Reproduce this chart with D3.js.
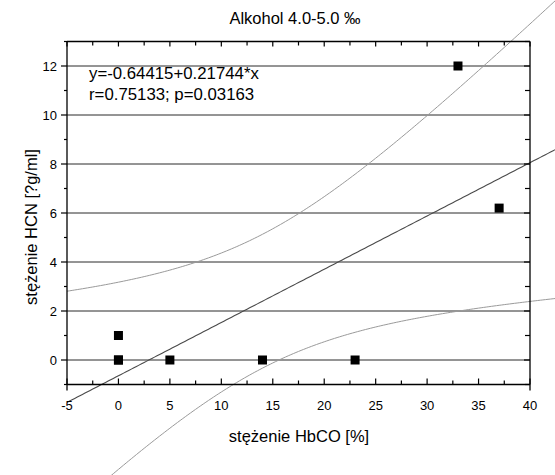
<!DOCTYPE html>
<html><head><meta charset="utf-8">
<script src="https://cdnjs.cloudflare.com/ajax/libs/d3/7.8.5/d3.min.js"></script>
<style>body{margin:0;background:#fff}svg{display:block;font-family:"Liberation Sans",Arial,sans-serif}</style>
</head><body><svg id="c" width="555" height="475"></svg>
<script>
const xValues = [0, 0, 0, 5, 14, 23, 33, 37];
const yValues = [0, 0, 1, 0, 0, 0, 12, 6.2];
const xTicks = [-5, 0, 5, 10, 15, 20, 25, 30, 35, 40];
const yTicks = [0, 2, 4, 6, 8, 10, 12];
const titleText = "Alkohol 4.0-5.0 \u2030";
const xTitle = "stężenie HbCO [%]";
const yTitle = "stężenie HCN [?g/ml]";
const annotation = ["y=-0.64415+0.21744*x", "r=0.75133; p=0.03163"];
const tCrit = 2.4469; // t(0.975, df=6)

const svg = d3.select("#c");
const x = d3.scaleLinear().domain([-5, 40]).range([67, 530]);
const y = d3.scaleLinear().domain([-1, 13]).range([384.5, 41.5]);
const L = 67, R = 530, T = 41.5, B = 384.5;

// gridlines
svg.append("g").selectAll("line").data(yTicks).join("line")
  .attr("x1", L).attr("x2", R).attr("y1", d => y(d)).attr("y2", d => y(d))
  .attr("stroke", "#2a2a2a").attr("stroke-width", 1);

// regression
const n = xValues.length;
const mx = d3.mean(xValues), my = d3.mean(yValues);
let sxx = 0, sxy = 0;
xValues.forEach((v, i) => { sxx += (v - mx) ** 2; sxy += (v - mx) * (yValues[i] - my); });
const b = sxy / sxx, a = my - b * mx;
let sse = 0;
xValues.forEach((v, i) => { sse += (yValues[i] - (a + b * v)) ** 2; });
const s = Math.sqrt(sse / (n - 2));
const xs = d3.range(-5, 45.01, 0.25);
const fit = xs.map(v => [v, a + b * v]);
const half = v => tCrit * s * Math.sqrt(1 / n + (v - mx) ** 2 / sxx);
const upper = xs.map(v => [v, a + b * v + half(v)]);
const lower = xs.map(v => [v, a + b * v - half(v)]);
const line = d3.line().x(d => x(d[0])).y(d => y(d[1]));
svg.append("path").attr("d", line(upper)).attr("fill", "none").attr("stroke", "#9a9a9a").attr("stroke-width", 1);
svg.append("path").attr("d", line(lower)).attr("fill", "none").attr("stroke", "#9a9a9a").attr("stroke-width", 1);
svg.append("path").attr("d", line(fit)).attr("fill", "none").attr("stroke", "#4a4a4a").attr("stroke-width", 1.1);

// frame
const fr = svg.append("g").attr("stroke", "#000").attr("stroke-width", 1.3);
fr.append("line").attr("x1", L).attr("x2", R).attr("y1", T).attr("y2", T);
fr.append("line").attr("x1", L).attr("x2", R).attr("y1", B).attr("y2", B);
fr.append("line").attr("x1", L).attr("x2", L).attr("y1", T).attr("y2", B + 6);
fr.append("line").attr("x1", R).attr("x2", R).attr("y1", T).attr("y2", B + 6);

// ticks
const xMinor = d3.range(-2.5, 40, 5);
const yMinor = d3.range(-1, 13.5, 2);
const tk = svg.append("g").attr("stroke", "#000").attr("stroke-width", 1.2);
xTicks.forEach(v => {
  tk.append("line").attr("x1", x(v)).attr("x2", x(v)).attr("y1", B).attr("y2", B - 6);
  tk.append("line").attr("x1", x(v)).attr("x2", x(v)).attr("y1", T).attr("y2", T + 5);
});
xMinor.forEach(v => {
  tk.append("line").attr("x1", x(v)).attr("x2", x(v)).attr("y1", B).attr("y2", B - 4);
  tk.append("line").attr("x1", x(v)).attr("x2", x(v)).attr("y1", T).attr("y2", T + 4);
});
yTicks.forEach(v => {
  tk.append("line").attr("x1", L - 6).attr("x2", L).attr("y1", y(v)).attr("y2", y(v));
  tk.append("line").attr("x1", R - 6).attr("x2", R).attr("y1", y(v)).attr("y2", y(v));
});
yMinor.forEach(v => {
  tk.append("line").attr("x1", L - 3).attr("x2", L).attr("y1", y(v)).attr("y2", y(v));
  tk.append("line").attr("x1", R - 5).attr("x2", R).attr("y1", y(v)).attr("y2", y(v));
});

// tick labels
svg.append("g").selectAll("text").data(xTicks).join("text")
  .attr("x", d => x(d)).attr("y", 410).attr("text-anchor", "middle")
  .attr("font-size", 13).attr("fill", "#000").text(d => d);
svg.append("g").selectAll("text").data(yTicks).join("text")
  .attr("x", 57).attr("y", d => y(d) + 4.5).attr("text-anchor", "end")
  .attr("font-size", 13).attr("fill", "#000").text(d => d);

// points
svg.append("g").selectAll("rect").data(xValues.map((v, i) => [v, yValues[i]])).join("rect")
  .attr("x", d => x(d[0]) - 4.5).attr("y", d => y(d[1]) - 4.5)
  .attr("width", 9).attr("height", 9).attr("fill", "#000");

// texts
svg.append("text").attr("x", 295).attr("y", 24).attr("text-anchor", "middle")
  .attr("font-size", 16.5).text(titleText);
svg.append("text").attr("x", 299).attr("y", 442).attr("text-anchor", "middle")
  .attr("font-size", 16.5).text(xTitle);
svg.append("text").attr("transform", "translate(37,227) rotate(-90)").attr("text-anchor", "middle")
  .attr("font-size", 16.5).text(yTitle);
annotation.forEach((t, i) => {
  svg.append("text").attr("x", 89).attr("y", 79 + i * 21).attr("font-size", 16.8).text(t);
});
</script></body></html>
